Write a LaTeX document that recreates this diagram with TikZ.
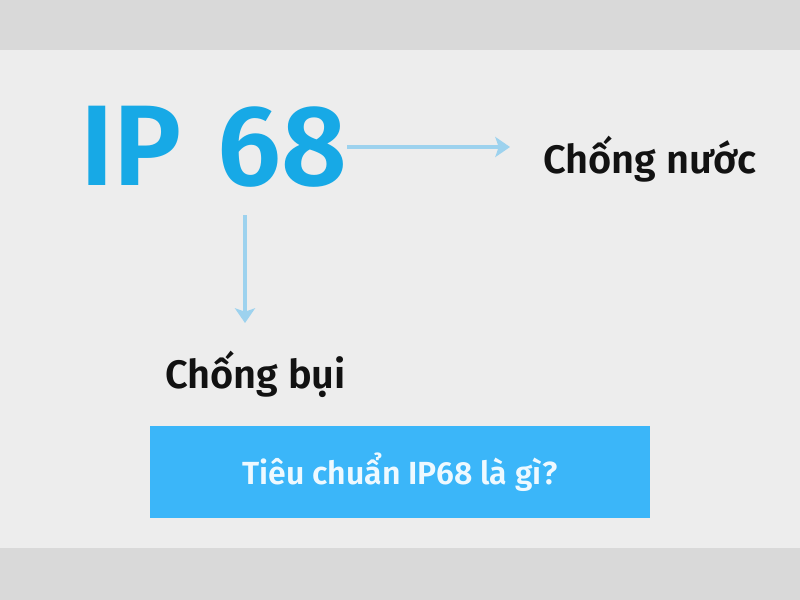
\documentclass[tikz,border=0pt]{standalone}
\usepackage{fontspec}
\setmainfont{Fira Sans}
\newfontfamily\labelfont{Fira Sans SemiBold}
\usepackage{xcolor}
\usepackage{tikz}
\usetikzlibrary{positioning}
\usetikzlibrary{arrows.meta}
\definecolor{bandgray}{HTML}{D9D9D9}
\definecolor{bggray}{HTML}{EDEDED}
\definecolor{ipblue}{HTML}{17A9E6}
\definecolor{arrowblue}{HTML}{9DD2EE}
\definecolor{boxblue}{HTML}{3BB6F9}
\definecolor{boxtext}{HTML}{EEF9FF}
\tikzset{big node/.style={inner sep=0pt,text=ipblue,font=\labelfont\fontsize{86pt}{86pt}\selectfont},
         label node/.style={inner sep=0pt,text=black!93,font=\labelfont\fontsize{29.8pt}{30pt}\selectfont},
         title node/.style={fill=boxblue,text=boxtext,minimum width=375pt,minimum height=69pt,
                            inner sep=0pt,font=\labelfont\fontsize{24pt}{24pt}\selectfont},
         link/.style={draw=arrowblue,line width=2.4pt,
                      -{Stealth[length=11pt,width=15pt,inset=2.5pt,fill=arrowblue]}},
            }

\begin{document}
\begin{tikzpicture}[x=0.75pt,y=-0.75pt]
        \useasboundingbox (0,0) rectangle (800,600);
        \fill[bandgray] (0,0) rectangle (800,600);
        \fill[bggray] (0,50) rectangle (800,548);

        \node[big node,anchor=base west] (1) at (80,185) {IP};
        \node[big node] (2) [base right = 26pt of 1] {68};
        \node[label node,anchor=base west] (3) at (543,173) {Chống nước};
        \node[label node,anchor=base west] (4) at (165,388) {Chống bụi};
        \node[title node] (5) at (400,472) {Tiêu chuẩn IP68 là gì?};

        \coordinate (a) at (510,147);
        \coordinate (b) at (245,323);

        \draw[link] (2.east |- a) -- (a);
        \draw[link,shorten <=21pt] (2.south -| b) -- (b);
      \end{tikzpicture}
\end{document}
